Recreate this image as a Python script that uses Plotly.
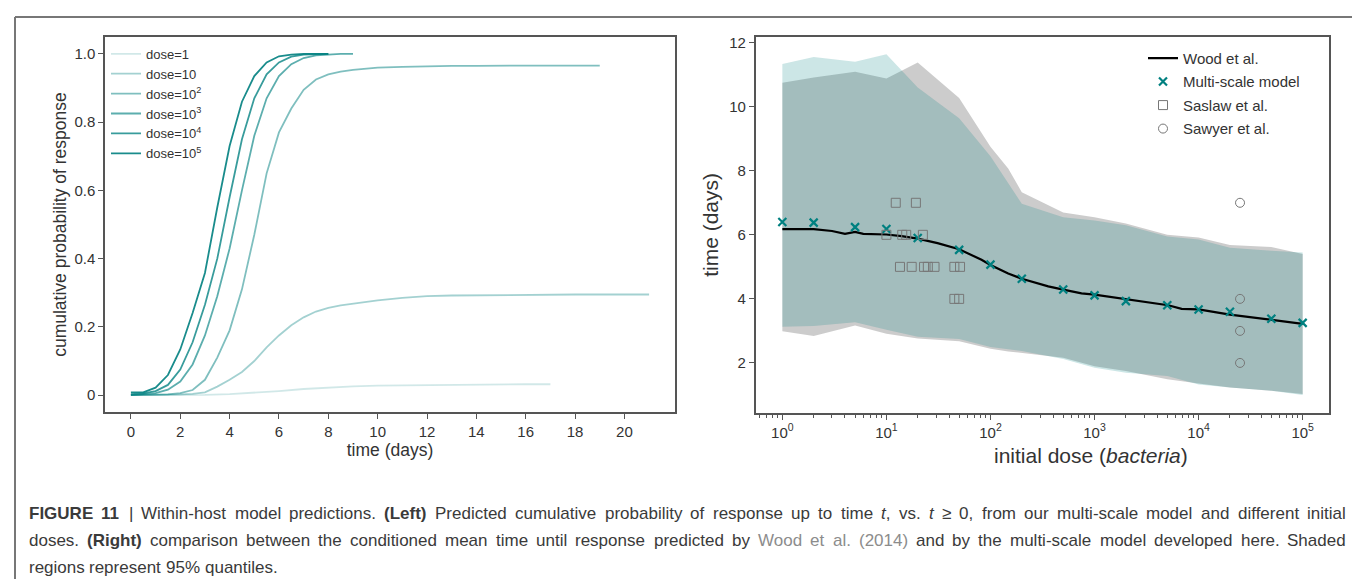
import re
import plotly.graph_objects as go

# ---------------- Left panel data ----------------
t_d1 = [0, 1, 2, 3, 4, 5, 6, 7, 8, 9, 10, 11, 12, 13, 14, 15, 16, 17]
p_d1 = [0, 0, 0, 0.001, 0.003, 0.007, 0.012, 0.018, 0.023, 0.026, 0.028, 0.029, 0.030, 0.031, 0.031, 0.032, 0.032, 0.032]

t_d10 = [0, 0.5, 1, 1.5, 2, 2.5, 3, 3.5, 4, 4.5, 5, 5.5, 6, 6.5, 7, 7.5, 8, 8.5, 9, 9.5, 10,
         11, 12, 13, 14, 15, 16, 17, 18, 19, 20, 21]
p_d10 = [0, 0, 0, 0.001, 0.002, 0.004, 0.008, 0.025, 0.045, 0.068, 0.10, 0.14, 0.175, 0.205, 0.228, 0.245, 0.256, 0.263, 0.268, 0.273, 0.278,
         0.285, 0.290, 0.292, 0.293, 0.294, 0.294, 0.294, 0.295, 0.295, 0.295, 0.295]

t_d100 = [0, 0.5, 1, 1.5, 2, 2.5, 3, 3.5, 4, 4.5, 5, 5.5, 6, 6.5, 7, 7.5, 8, 8.5, 9, 9.5, 10,
          11, 12, 13, 14, 15, 16, 17, 18, 19]
p_d100 = [0, 0, 0.001, 0.002, 0.006, 0.015, 0.045, 0.11, 0.19, 0.31, 0.47, 0.65, 0.77, 0.84, 0.895, 0.925, 0.94, 0.948, 0.953, 0.957, 0.960,
          0.962, 0.964, 0.965, 0.965, 0.966, 0.966, 0.966, 0.966, 0.966]

t_d1e3 = [0, 0.5, 1, 1.5, 2, 2.5, 3, 3.5, 4, 4.5, 5, 5.5, 6, 6.5, 7, 7.5, 8, 8.5, 9]
p_d1e3 = [0, 0.002, 0.006, 0.016, 0.04, 0.09, 0.175, 0.29, 0.43, 0.60, 0.76, 0.87, 0.935, 0.97, 0.988, 0.996, 0.999, 1.0, 1.0]

t_d1e4 = [0, 0.5, 1, 1.5, 2, 2.5, 3, 3.5, 4, 4.5, 5, 5.5, 6, 6.5, 7, 7.5, 8]
p_d1e4 = [0.003, 0.005, 0.012, 0.03, 0.075, 0.155, 0.265, 0.40, 0.58, 0.75, 0.87, 0.94, 0.975, 0.992, 0.998, 1.0, 1.0]

t_d1e5 = [0, 0.5, 1, 1.5, 2, 2.5, 3, 3.5, 4, 4.5, 5, 5.5, 6, 6.5, 7, 7.5, 8]
p_d1e5 = [0.008, 0.008, 0.022, 0.059, 0.134, 0.241, 0.358, 0.55, 0.73, 0.86, 0.935, 0.975, 0.993, 0.998, 1.0, 1.0, 1.0]

dose_labels = ["dose=1", "dose=10", "dose=10<sup>2</sup>", "dose=10<sup>3</sup>",
               "dose=10<sup>4</sup>", "dose=10<sup>5</sup>"]
dose_alpha = [0.18, 0.36, 0.5, 0.64, 0.78, 0.9]

left_x_ticks = [0, 2, 4, 6, 8, 10, 12, 14, 16, 18, 20]
left_y_ticks = [0, 0.2, 0.4, 0.6, 0.8, 1.0]
left_y_ticktext = ["0", "0.2", "0.4", "0.6", "0.8", "1.0"]

# ---------------- Right panel data ----------------
model_dose = [1, 2, 5, 10, 20, 50, 100, 200, 500, 1000, 2000, 5000, 10000, 20000, 50000, 100000]
model_time = [6.40, 6.38, 6.24, 6.18, 5.90, 5.53, 5.07, 4.63, 4.29, 4.11, 3.93, 3.80, 3.67, 3.60, 3.38, 3.25]
model_upper = [11.33, 11.55, 11.40, 11.64, 10.60, 9.64, 8.45, 6.97, 6.55, 6.45, 6.30, 5.95, 5.85, 5.60, 5.50, 5.45]
model_lower = [3.13, 3.15, 3.27, 3.04, 2.82, 2.75, 2.50, 2.37, 2.12, 1.85, 1.69, 1.59, 1.33, 1.23, 1.13, 1.00]

wood_dose = [1, 2, 3, 4, 5, 6, 10, 14, 20, 31, 50, 82, 100, 148, 200, 290, 359, 500, 750, 1000,
             2030, 5100, 6870, 10000, 20000, 50000, 100000]
wood_time = [6.18, 6.18, 6.12, 6.03, 6.09, 6.03, 6.01, 5.96, 5.88, 5.74, 5.55, 5.22, 5.06, 4.79, 4.63, 4.48, 4.39, 4.29, 4.17, 4.13,
             3.98, 3.80, 3.69, 3.67, 3.51, 3.35, 3.22]

wood_band_dose = [1, 2, 5, 10, 20, 50, 100, 148, 200, 500, 1000, 2000, 5000, 10000, 20000, 50000, 100000]
wood_upper = [10.75, 10.91, 11.09, 10.88, 11.38, 10.27, 8.75, 8.07, 7.33, 6.70, 6.55, 6.35, 6.00, 5.92, 5.68, 5.62, 5.40]
wood_lower = [2.99, 2.84, 3.17, 2.91, 2.76, 2.68, 2.44, 2.36, 2.30, 2.16, 1.90, 1.75, 1.49, 1.36, 1.23, 1.13, 1.03]

saslaw_dose = [12.3, 19.2, 10, 14.2, 15.5, 22.4, 13.5, 17.5, 23, 25, 29, 45, 51, 45, 50]
saslaw_time = [7, 7, 6, 6, 6, 6, 5, 5, 5, 5, 5, 5, 5, 4, 4]

sawyer_dose = [25000, 25000, 25000, 25000]
sawyer_time = [7, 4, 3, 2]

right_x_ticks = [1, 10, 100, 1000, 10000, 100000]
right_x_ticktext = ["10<sup>0</sup>", "10<sup>1</sup>", "10<sup>2</sup>", "10<sup>3</sup>", "10<sup>4</sup>", "10<sup>5</sup>"]
right_y_ticks = [2, 4, 6, 8, 10, 12]

GRAY_LINK = "<span style='color:#8c8c8c'>"
caption_lines = [
    "<b>FIGURE 11</b> | Within-host model predictions. <b>(Left)</b> Predicted cumulative probability of response up to time <i>t</i>, vs. <i>t</i> ≥ 0, from our multi-scale model and different initial",
    "doses. <b>(Right)</b> comparison between the conditioned mean time until response predicted by "
    + GRAY_LINK + "Wood</span> " + GRAY_LINK + "et</span> " + GRAY_LINK + "al.</span> " + GRAY_LINK + "(2014)</span>"
    + " and by the multi-scale model developed here. Shaded",
    "regions represent 95% quantiles.",
]
caption_justify = [True, True, False]

# ---------------- text-width helper (Arial / Liberation Sans metrics) ----------------
_REG = {' ': 278, '!': 278, '%': 889, '(': 333, ')': 333, ',': 278, '-': 333, '.': 278, '|': 260, '≥': 549,
        'A': 667, 'B': 667, 'C': 722, 'D': 722, 'E': 667, 'F': 611, 'G': 778, 'H': 722, 'I': 278, 'J': 500,
        'K': 667, 'L': 556, 'M': 833, 'N': 722, 'O': 778, 'P': 667, 'Q': 778, 'R': 722, 'S': 667, 'T': 611,
        'U': 722, 'V': 667, 'W': 944, 'X': 667, 'Y': 667, 'Z': 611,
        'a': 556, 'b': 556, 'c': 500, 'd': 556, 'e': 556, 'f': 278, 'g': 556, 'h': 556, 'i': 222, 'j': 222,
        'k': 500, 'l': 222, 'm': 833, 'n': 556, 'o': 556, 'p': 556, 'q': 556, 'r': 333, 's': 500, 't': 278,
        'u': 556, 'v': 500, 'w': 722, 'x': 500, 'y': 500, 'z': 500}
_BOLD = dict(_REG)
_BOLD.update({'A': 722, 'B': 722, 'K': 722, 'L': 611, 'J': 556, 'b': 611, 'c': 556, 'd': 611, 'f': 333, 'g': 611,
              'h': 611, 'i': 278, 'j': 278, 'k': 556, 'l': 278, 'm': 889, 'n': 611, 'o': 611, 'p': 611, 'q': 611,
              'r': 389, 's': 556, 't': 333, 'u': 611, 'v': 556, 'w': 778, 'x': 556, 'y': 556})


def text_width(s, size):
    bold = False
    w = 0.0
    for tok in re.split(r"(<[^>]+>)", s):
        if tok.startswith("<"):
            if tok == "<b>":
                bold = True
            elif tok == "</b>":
                bold = False
            continue
        for ch in tok:
            tbl = _BOLD if bold else _REG
            w += tbl.get(ch, 556)
    return w * size / 1000.0


def split_words(line):
    words, cur = [], ""
    i = 0
    while i < len(line):
        ch = line[i]
        if ch == "<":
            j = line.index(">", i)
            cur += line[i:j + 1]
            i = j + 1
            continue
        if ch == " ":
            words.append(cur)
            cur = ""
        else:
            cur += ch
        i += 1
    words.append(cur)
    out, open_b = [], False
    for w in words:
        if w == "":
            continue
        pre = "<b>" if open_b else ""
        nb = w.count("<b>") - w.count("</b>")
        if open_b:
            nb += 1
        post = "</b>" if nb > 0 else ""
        open_b = nb > 0
        out.append(pre + w + post)
    return out


# ---------------- Figure ----------------
W, H = 1360, 579
FONT = "Liberation Sans, Arial, sans-serif"
TXT = "#333333"
AX = "#555555"
TEAL = "rgb(0,128,128)"

fig = go.Figure()

left_series = [(t_d1, p_d1), (t_d10, p_d10), (t_d100, p_d100), (t_d1e3, p_d1e3), (t_d1e4, p_d1e4), (t_d1e5, p_d1e5)]
for (tt, pp), lab, a in zip(left_series, dose_labels, dose_alpha):
    fig.add_trace(go.Scatter(x=tt, y=pp, mode="lines", name=lab,
                             line=dict(color=f"rgba(0,128,128,{a})", width=1.8),
                             xaxis="x", yaxis="y", legend="legend"))

fig.add_trace(go.Scatter(x=wood_band_dose + wood_band_dose[::-1], y=wood_upper + wood_lower[::-1],
                         fill="toself", fillcolor="rgba(0,0,0,0.2)", line=dict(width=0),
                         mode="lines", showlegend=False, hoverinfo="skip", xaxis="x2", yaxis="y2"))
fig.add_trace(go.Scatter(x=model_dose + model_dose[::-1], y=model_upper + model_lower[::-1],
                         fill="toself", fillcolor="rgba(0,128,128,0.2)", line=dict(width=0),
                         mode="lines", showlegend=False, hoverinfo="skip", xaxis="x2", yaxis="y2"))

fig.add_trace(go.Scatter(x=wood_dose, y=wood_time, mode="lines", name="Wood et al.",
                         line=dict(color="black", width=2.2), xaxis="x2", yaxis="y2",
                         legend="legend2", legendgroup="g1"))
fig.add_trace(go.Scatter(x=model_dose, y=model_time, mode="markers", name="Multi-scale model",
                         marker=dict(symbol="x-thin", size=8, line=dict(color=TEAL, width=2.2), color=TEAL),
                         xaxis="x2", yaxis="y2", legend="legend2", legendgroup="g2"))
fig.add_trace(go.Scatter(x=saslaw_dose, y=saslaw_time, mode="markers", name="Saslaw et al.",
                         marker=dict(symbol="square-open", size=9, color="#777777", line=dict(width=1)),
                         xaxis="x2", yaxis="y2", legend="legend2", legendgroup="g3"))
fig.add_trace(go.Scatter(x=sawyer_dose, y=sawyer_time, mode="markers", name="Sawyer et al.",
                         marker=dict(symbol="circle-open", size=9, color="#777777", line=dict(width=1)),
                         xaxis="x2", yaxis="y2", legend="legend2", legendgroup="g4"))

axis_common = dict(showline=True, linecolor=AX, linewidth=1.5, mirror=True, showgrid=False,
                   zeroline=False, ticks="outside", ticklen=5, tickcolor=AX, tickwidth=1,
                   tickfont=dict(family=FONT, size=15, color=TXT))

fig.update_layout(
    width=W, height=H,
    margin=dict(l=0, r=0, t=0, b=0),
    paper_bgcolor="white", plot_bgcolor="white",
    font=dict(family=FONT, color=TXT),
    xaxis=dict(domain=[97 / W, 667 / W], anchor="y", range=[-1.05, 22.05],
               tickvals=left_x_ticks,
               title=dict(text="time (days)", font=dict(size=17.5, family=FONT, color=TXT), standoff=0),
               **axis_common),
    yaxis=dict(domain=[1 - 403.3 / H, 1 - 26 / H], anchor="x", range=[-0.05, 1.05],
               tickvals=left_y_ticks, ticktext=left_y_ticktext,
               title=dict(text="cumulative probability of response", font=dict(size=17.5, family=FONT, color=TXT), standoff=3),
               **axis_common),
    xaxis2=dict(domain=[747.7 / W, 1321 / W], anchor="y2", type="log", range=[-0.256, 5.253],
                tickvals=right_x_ticks, ticktext=right_x_ticktext,
                minor=dict(ticks="outside", ticklen=3, tickcolor=AX, dtick="D1", showgrid=False),
                **axis_common),
    yaxis2=dict(domain=[1 - 404 / H, 1 - 26 / H], anchor="x2", range=[0.44, 12.18],
                tickvals=right_y_ticks,
                title=dict(text="time (days)", font=dict(size=21, family=FONT, color=TXT), standoff=5),
                **axis_common),
    legend=dict(x=98 / W, y=1 - 28 / H, xanchor="left", yanchor="top", bgcolor="rgba(0,0,0,0)",
                font=dict(family=FONT, size=13, color=TXT)),
    legend2=dict(x=1135 / W, y=1 - 31 / H, xanchor="left", yanchor="top", bgcolor="rgba(0,0,0,0)",
                 font=dict(family=FONT, size=15, color=TXT), tracegroupgap=1),
    showlegend=True,
)

# x title of the right panel (sits right of centre in the reference)
fig.add_annotation(text="initial dose (<i>bacteria</i>)", xref="paper", yref="paper",
                   x=1083 / W, y=1 - 447 / H, xanchor="center", yanchor="middle", showarrow=False,
                   font=dict(family=FONT, size=21, color=TXT))

# outer frame
for x0, y0, x1, y1 in [(7, 6, 7, H), (7, 6, 1356, 6), (1356, 6, 1356, 572)]:
    fig.add_shape(type="line", xref="paper", yref="paper",
                  x0=x0 / W, x1=x1 / W, y0=1 - y0 / H, y1=1 - y1 / H,
                  line=dict(color="#777777", width=2))

# caption, word by word so that the first two lines are justified like the reference
CAP_SIZE = 17
CAP_LEFT, CAP_RIGHT = 20, 1337
cap_y = [505, 532, 559]
for line, yy, just in zip(caption_lines, cap_y, caption_justify):
    words = split_words(line)
    widths = [text_width(w, CAP_SIZE) for w in words]
    space = 0.278 * CAP_SIZE
    if just and len(words) > 1:
        gap = (CAP_RIGHT - CAP_LEFT - sum(widths)) / (len(words) - 1)
        gap = max(gap, space * 0.8)
    else:
        gap = space
    x = CAP_LEFT
    for w, wd in zip(words, widths):
        fig.add_annotation(text=w, xref="paper", yref="paper", x=x / W, y=1 - yy / H,
                           xanchor="left", yanchor="middle", showarrow=False, borderpad=0,
                           font=dict(family=FONT, size=CAP_SIZE, color="#3a3a3a"))
        x += wd + gap

fig.write_html("out.html")
